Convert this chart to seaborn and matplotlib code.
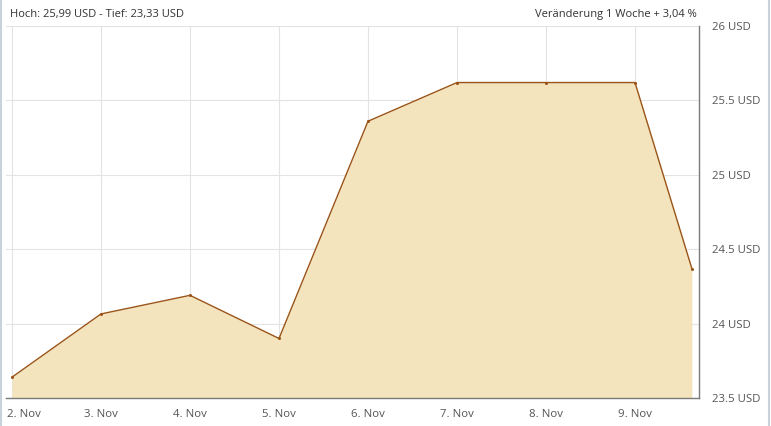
import matplotlib
matplotlib.use("Agg")
import matplotlib.pyplot as plt
import matplotlib.transforms as mtransforms
import seaborn as sns
import pandas as pd
from matplotlib.lines import Line2D

# Data
dates = ["2023-11-02 00:00", "2023-11-03 00:00", "2023-11-04 00:00", "2023-11-05 00:00",
         "2023-11-06 00:00", "2023-11-07 00:00", "2023-11-08 00:00", "2023-11-09 00:00",
         "2023-11-09 15:20"]
prices = [23.64, 24.065, 24.19, 23.90, 25.36, 25.62, 25.62, 25.62, 24.37]
tick_dates = ["2023-11-02", "2023-11-03", "2023-11-04", "2023-11-05",
              "2023-11-06", "2023-11-07", "2023-11-08", "2023-11-09"]
tick_labels = ["2. Nov", "3. Nov", "4. Nov", "5. Nov", "6. Nov", "7. Nov", "8. Nov", "9. Nov"]
y_ticks = [23.5, 24, 24.5, 25, 25.5, 26]
y_labels = ["23.5 USD", "24 USD", "24.5 USD", "25 USD", "25.5 USD", "26 USD"]
header_left = "Hoch: 25,99 USD - Tief: 23,33 USD"
header_right = "Veränderung 1 Woche + 3,04 %"

df = pd.DataFrame({"date": pd.to_datetime(dates), "price": prices})

sns.set_theme(style="white")
plt.rcParams["font.family"] = ["Open Sans", "DejaVu Sans"]

W, H = 771, 426
fig = plt.figure(figsize=(W / 100, H / 100), dpi=100)
ax = fig.add_axes([6 / W, (H - 398) / H, (699 - 6) / W, (398 - 26) / H])

line_c = "#9a5418"
fill_c = "#f4e4bd"
grid_c = "#e3e3e3"
text_c = "#555555"

ax.fill_between(df["date"], df["price"], 23.5, color=fill_c, linewidth=0, zorder=2)
sns.lineplot(data=df, x="date", y="price", ax=ax, color=line_c, linewidth=1.0,
             marker="o", markersize=2.2, markeredgewidth=0, zorder=3)

t0 = pd.Timestamp("2023-11-02")
day = pd.Timedelta(days=1)
ax.set_xlim(t0 - day * (6 / 89), t0 + day * ((699 - 12) / 89))
ax.set_ylim(23.5, 26)

tick_pos = pd.to_datetime(tick_dates)
ax.set_xticks(tick_pos)
ax.set_xticklabels(tick_labels)
ax.set_yticks(y_ticks)
ax.set_yticklabels(y_labels)
ax.yaxis.tick_right()
ax.set_xlabel("")
ax.set_ylabel("")

ax.grid(True, color=grid_c, linewidth=0.8, zorder=1)
ax.set_axisbelow(True)

for s in ["top", "left"]:
    ax.spines[s].set_visible(False)
for s in ["bottom", "right"]:
    ax.spines[s].set_visible(True)
    ax.spines[s].set_color("#7a7a7a")
    ax.spines[s].set_linewidth(1.0)
    ax.spines[s].set_zorder(4)

ax.tick_params(axis="x", colors="#c5d3e3", length=6, width=1, direction="out",
               labelcolor=text_c, labelsize=8.2, pad=2)
ax.tick_params(axis="y", length=0, labelcolor=text_c, labelsize=8.2, pad=9)
for lab in ax.get_yticklabels():
    lab.set_horizontalalignment("left")

# keep first x label inside the figure (shifted like the original)
first = ax.get_xticklabels()[0]
first.set_horizontalalignment("left")
first.set_transform(first.get_transform() + mtransforms.ScaledTranslation(-5 / 100, 0, fig.dpi_scale_trans))

fig.text(10 / W, 1 - 14 / H, header_left, fontsize=8.0, color="#333333", va="center", ha="left")
fig.text(697 / W, 1 - 14 / H, header_right, fontsize=8.0, color="#333333", va="center", ha="right")

# figure border lines (left/right)
fig.add_artist(Line2D([1 / W, 1 / W], [0, 1], transform=fig.transFigure, color="#c9d2dc", linewidth=1.5))
fig.add_artist(Line2D([1 - 2 / W, 1 - 2 / W], [0, 1], transform=fig.transFigure, color="#c9d2dc", linewidth=1.5))

fig.savefig("out.png", dpi=100)
